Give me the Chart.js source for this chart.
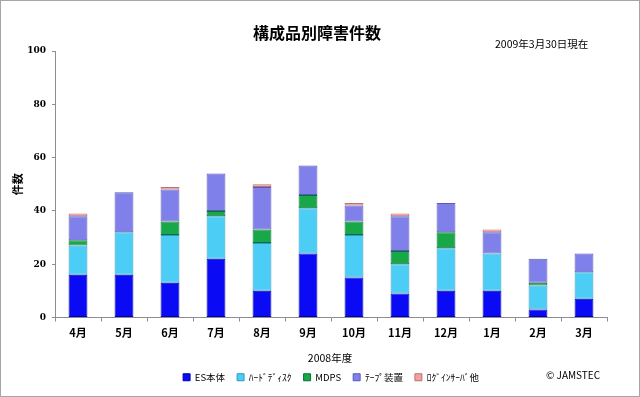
<!DOCTYPE html>
<html>
<head>
<meta charset="utf-8">
<script src="https://cdn.jsdelivr.net/npm/chart.js@4/dist/chart.umd.min.js"></script>
<style>
body { margin: 0; background: #fff; }
#wrap { position: relative; width: 640px; height: 397px; font-family: "Noto Sans CJK JP", sans-serif; }
#frame { position: absolute; left: 0; top: 0; width: 638px; height: 395px; border: 1px solid #a6a6a6; pointer-events: none; }
.txt { position: absolute; white-space: nowrap; color: #000; line-height: 1; }
</style>
</head>
<body>
<div id="wrap">
  <canvas id="chart" width="640" height="397"></canvas>
  <div class="txt" style="left:253px; top:24px; font-size:16px; font-weight:bold;">構成品別障害件数</div>
  <div class="txt" style="left:495px; top:39px; font-size:10.5px;">2009年3月30日現在</div>
  <div class="txt" style="left:280px; width:100px; text-align:center; top:353px; font-size:10.5px;">2008年度</div>
  <div class="txt" style="left:546px; top:370px; font-size:10px;">© JAMSTEC</div>
  <div id="frame"></div>
</div>
<script>
// 月ごとの障害件数 (2008年度)
const months = ['4月', '5月', '6月', '7月', '8月', '9月', '10月', '11月', '12月', '1月', '2月', '3月'];
const esHontai = [16, 16, 13, 22, 10, 24, 15, 9, 10, 10, 3, 7];
const hardDisk = [11, 16, 18, 16, 18, 17, 16, 11, 16, 14, 9, 10];
const mdps = [2, 0, 5, 2, 5, 5, 5, 5, 6, 0, 1, 0];
const tapeSouchi = [9, 15, 12, 14, 16, 11, 6, 13, 11, 8, 9, 7];
const loginEtc = [1, 0, 1, 0, 1, 0, 1, 1, 0, 1, 0, 0];
const yTicks = [0, 20, 40, 60, 80, 100];

function ds(label, data, fill, edge) {
    return {
        label: label,
        data: data,
        backgroundColor: fill,
        borderColor: edge,
        // 0件の区間は枠線を描かない
        borderWidth: c => (c.raw ? 1 : 0),
        borderSkipped: false,
        barPercentage: 0.41,
        categoryPercentage: 1.0
    };
}

const ctx = document.getElementById('chart').getContext('2d');
new Chart(ctx, {
    type: 'bar',
    data: {
        labels: months,
        datasets: [
            ds('ES本体', esHontai, '#0a0af5', '#0000b0'),
            ds('ﾊｰﾄﾞﾃﾞｨｽｸ', hardDisk, '#4ccdf5', '#2f98c4'),
            ds('MDPS', mdps, '#18a848', '#06703a'),
            ds('ﾃｰﾌﾟ装置', tapeSouchi, '#8080ea', '#5a5ab8'),
            ds('ﾛｸﾞｲﾝｻｰﾊﾞ他', loginEtc, '#f0a0a0', '#c07070')
        ]
    },
    options: {
        responsive: false,
        animation: false,
        layout: { padding: { left: 11, right: 33, top: 51, bottom: 5 } },
        plugins: {
            legend: {
                position: 'bottom',
                fullSize: false,
                labels: {
                    color: '#000',
                    boxWidth: 7,
                    boxHeight: 7,
                    padding: 12,
                    font: { family: '"Noto Sans CJK JP", sans-serif', size: 9.5 }
                }
            },
            tooltip: { enabled: false }
        },
        scales: {
            x: {
                stacked: true,
                afterFit: function(axis) { axis.height = 43; },
                grid: { display: true, drawOnChartArea: false, drawTicks: true, tickLength: 4, color: '#8c8c8c' },
                border: { color: '#8c8c8c' },
                ticks: { color: '#000', padding: 5, font: { family: '"Noto Sans CJK JP", sans-serif', size: 11, weight: 'bold' } }
            },
            y: {
                stacked: true,
                min: 0,
                max: 100,
                afterBuildTicks: function(axis) { axis.ticks = yTicks.map(v => ({ value: v })); },
                afterFit: function(axis) { axis.width = 44; },
                grid: { display: true, drawOnChartArea: false, tickLength: 3, color: '#8c8c8c' },
                border: { color: '#8c8c8c' },
                ticks: { color: '#000', padding: 6, font: { family: '"DejaVu Serif", serif', size: 9, weight: 'bold' } },
                title: { display: true, text: '件数', color: '#000', padding: { top: 0, bottom: 0 }, font: { family: '"Noto Sans CJK JP", sans-serif', size: 11, weight: 'bold' } }
            }
        }
    }
});
</script>
</body>
</html>
